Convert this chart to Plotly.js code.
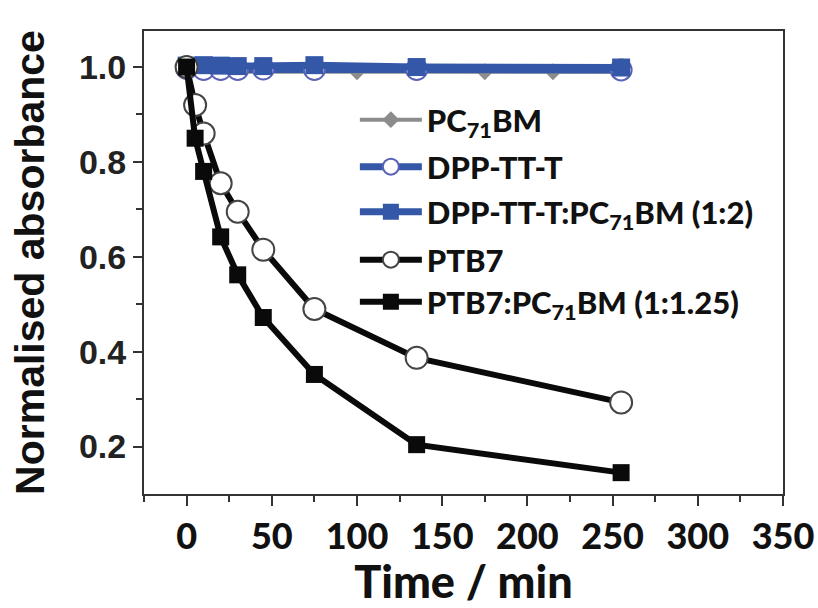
<!DOCTYPE html>
<html><head><meta charset="utf-8">
<script src="https://cdn.plot.ly/plotly-3.0.1.min.js"></script>
<style>html,body{margin:0;padding:0;background:#fff}#chart{width:818px;height:608px}</style>
</head><body><div id="chart"></div>
<script>
// Data
const timePTB7 = [0, 5, 10, 20, 30, 45, 75, 135, 255];
const ptb7 = [1.0, 0.92, 0.86, 0.755, 0.695, 0.615, 0.49, 0.387, 0.293];
const ptb7Blend = [1.0, 0.85, 0.78, 0.642, 0.562, 0.472, 0.352, 0.204, 0.145];
const timeDPP = [0, 10, 20, 30, 45, 75, 135, 255];
const dpp = [0.997, 0.995, 0.995, 0.995, 0.996, 0.995, 0.995, 0.994];
const dppBlend = [1.003, 1.004, 1.003, 1.002, 1.002, 1.004, 1.0, 0.999];
const timePCBM = [0, 10, 20, 30, 45, 75, 100, 135, 175, 215, 255];
const pcbm = [0.995, 0.99, 0.99, 0.99, 0.99, 0.99, 0.99, 0.99, 0.99, 0.99, 0.99];
const seriesNames = ['PC<sub>71</sub>BM', 'DPP-TT-T', 'DPP-TT-T:PC<sub>71</sub>BM (1:2)', 'PTB7', 'PTB7:PC<sub>71</sub>BM (1:1.25)'];
const xTickVals = [0, 50, 100, 150, 200, 250, 300, 350];
const xTickText = ['0', '50', '100', '150', '200', '250', '300', '350'];
const xMinorVals = [-25, 25, 75, 125, 175, 225, 275, 325];
const yTickVals = [0.2, 0.4, 0.6, 0.8, 1.0];
const yTickText = ['0.2', '0.4', '0.6', '0.8', '1.0'];
const yMinorVals = [0.3, 0.5, 0.7, 0.9];
const xTitle = 'Time / min';
const yTitle = 'Normalised absorbance';

const BLUE = '#3557a8', GRAY = '#8c8c8c', BLACK = '#0a0a0a';

const traces = [
  {x: timePCBM, y: pcbm, name: seriesNames[0], legend: 'legend', mode: 'lines+markers',
   line: {color: GRAY, width: 4}, marker: {symbol: 'diamond', size: 13, color: GRAY}},
  {x: timeDPP, y: dpp, name: seriesNames[1], legend: 'legend2', mode: 'lines+markers',
   line: {color: BLUE, width: 7}, marker: {symbol: 'circle', size: 21, color: '#fff', line: {color: '#5a62b8', width: 2}}},
  {x: timeDPP, y: dppBlend, name: seriesNames[2], legend: 'legend3', mode: 'lines+markers',
   line: {color: BLUE, width: 7}, marker: {symbol: 'square', size: 18, color: BLUE}},
  {x: timePTB7, y: ptb7, name: seriesNames[3], legend: 'legend4', mode: 'lines+markers',
   line: {color: BLACK, width: 6}, marker: {symbol: 'circle', size: 22, color: '#fff', line: {color: '#444', width: 2}}},
  {x: timePTB7, y: ptb7Blend, name: seriesNames[4], legend: 'legend5', mode: 'lines+markers',
   line: {color: BLACK, width: 6}, marker: {symbol: 'square', size: 17, color: BLACK}}
];

const legFont = {family: 'Lato, "Liberation Sans Narrow", sans-serif', size: 31, weight: 900, color: '#111'};
function leg(y) {
  return {x: 0.33, xanchor: 'left', y: y, yanchor: 'middle', bgcolor: 'rgba(0,0,0,0)',
          borderwidth: 0, font: legFont, itemclick: false, itemwidth: 62};
}

const layout = {
  width: 818, height: 608,
  margin: {l: 144, r: 35, t: 31, b: 114},
  paper_bgcolor: '#fff', plot_bgcolor: '#fff',
  showlegend: true,
  legend: leg(0.8078), legend2: leg(0.7063), legend3: leg(0.6091), legend4: leg(0.5054), legend5: leg(0.4147),
  xaxis: {
    range: [-25, 350], tickmode: 'array', tickvals: xTickVals, ticktext: xTickText,
    ticks: 'outside', ticklen: 10, tickwidth: 2, tickcolor: '#333',
    minor: {tickmode: 'array', tickvals: xMinorVals, ticks: 'outside', ticklen: 6, tickwidth: 2, tickcolor: '#333', showgrid: false},
    showline: true, linewidth: 2, linecolor: '#333', mirror: true,
    showgrid: false, zeroline: false, automargin: false,
    tickfont: {family: 'Lato, sans-serif', size: 36, weight: 900, color: '#111'},
    title: {text: xTitle, font: {family: 'Lato, sans-serif', size: 45, weight: 900, color: '#111'}, standoff: 6}
  },
  yaxis: {
    range: [0.1, 1.076], tickmode: 'array', tickvals: yTickVals, ticktext: yTickText,
    ticks: 'outside', ticklen: 9, tickwidth: 2, tickcolor: '#333',
    minor: {tickmode: 'array', tickvals: yMinorVals, ticks: 'outside', ticklen: 6, tickwidth: 2, tickcolor: '#333', showgrid: false},
    showline: true, linewidth: 2, linecolor: '#333', mirror: true,
    showgrid: false, zeroline: false, automargin: false,
    tickfont: {family: '"Liberation Sans", Arial, sans-serif', size: 34, weight: 'bold', color: '#222'},
    title: {text: yTitle, font: {family: '"Liberation Sans", Arial, sans-serif', size: 41, weight: 'bold', color: '#111'}, standoff: 22}
  }
};

Plotly.newPlot('chart', traces, layout, {displayModeBar: false, staticPlot: true});
</script>
</body></html>
